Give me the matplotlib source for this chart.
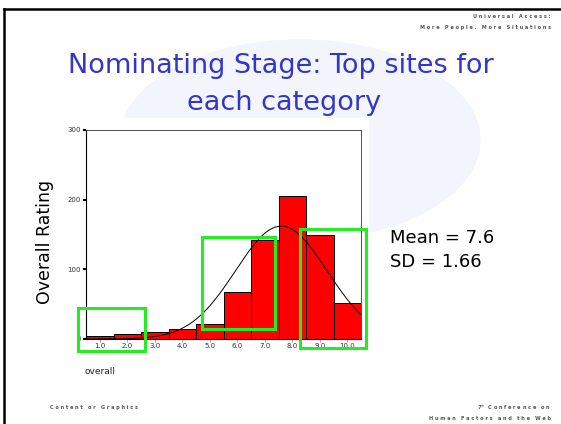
import numpy as np
import matplotlib.pyplot as plt
from matplotlib.patches import Rectangle, Ellipse

# histogram of ratings (counts)
bin_centers = [1, 2, 3, 4, 5, 6, 7, 8, 9, 10]
counts = [5, 7, 10, 14, 22, 68, 142, 205, 149, 52]
tick_labels = ["1.0", "2.0", "3.0", "4.0", "5.0", "6.0", "7.0", "8.0", "9.0", "10.0"]
mean_val = 7.6
sd_val = 1.66

# highlight boxes (x0, x1, y0, y1) in data units
highlights = [(0.21, 2.65, -17, 44), (4.72, 7.38, 14, 146), (8.28, 10.68, -13, 158)]

fig = plt.figure(figsize=(5.61, 4.24), dpi=100)
fig.patch.set_facecolor("white")

# slide background: faint watermark + black border
bg = fig.add_axes([0, 0, 1, 1])
bg.set_xlim(0, 561)
bg.set_ylim(424, 0)
bg.axis("off")
bg.add_patch(Ellipse((300, 140), 360, 200, color="#f2f5fc", zorder=0))
bg.add_patch(Rectangle((70, 118), 298, 275, color="white", zorder=1))
bg.plot([4, 561], [9, 9], color="black", lw=1.8, zorder=2)
bg.plot([4, 4], [9, 424], color="black", lw=1.8, zorder=2)

# header / footer texts
small = dict(fontsize=3.6, color="#555555", fontweight="bold")
bg.text(551, 16, "U n i v e r s a l   A c c e s s :", ha="right", va="center", **small)
bg.text(551, 28, "M o r e   P e o p l e .   M o r e   S i t u a t i o n s", ha="right", va="center", **small)
bg.text(50, 407, "C o n t e n t   o r   G r a p h i c s", ha="left", va="center", **small)
bg.text(551, 407, "7$^{th}$  C o n f e r e n c e   o n", ha="right", va="center", **small)
bg.text(551, 419, "H u m a n   F a c t o r s   a n d   t h e   W e b", ha="right", va="center", **small)

bg.text(281, 66, "Nominating Stage: Top sites for", ha="center", va="center",
        fontsize=19.5, color="#3535c8")
bg.text(284, 103, "each category", ha="center", va="center",
        fontsize=19.5, color="#3535c8")

bg.text(390, 238, f"Mean = {mean_val}", ha="left", va="center", fontsize=13, color="black")
bg.text(390, 262, f"SD = {sd_val}", ha="left", va="center", fontsize=13, color="black")
bg.text(45, 242, "Overall Rating", ha="center", va="center", rotation=90, fontsize=12.5)
bg.text(85, 371, "overall", ha="left", va="center", fontsize=6.5, color="#222222")

# histogram
ax = fig.add_axes([0.1533, 0.2005, 0.4902, 0.4929])
ax.bar(bin_centers, counts, width=1.0, color="red", edgecolor="black", linewidth=0.7, zorder=2)

x = np.linspace(0.5, 10.5, 300)
n = sum(counts)
y = n / (sd_val * np.sqrt(2 * np.pi)) * np.exp(-0.5 * ((x - mean_val) / sd_val) ** 2)
ax.plot(x, y, color="black", lw=0.7, zorder=3)

ax.set_xlim(0.5, 10.5)
ax.set_ylim(0, 300)
ax.set_xticks(bin_centers)
ax.set_xticklabels(tick_labels, fontsize=5, color="#333333")
ax.set_yticks([0, 100, 200, 300])
ax.set_yticklabels(["0", "100", "200", "300"], fontsize=5, color="#333333")
ax.tick_params(axis="y", length=2.5, width=1.5, pad=1)
ax.tick_params(axis="x", length=2, width=0.5, color="#888888", pad=1)
for s in ["top", "right"]:
    ax.spines[s].set_linewidth(0.6)
    ax.spines[s].set_color("#333333")
ax.spines["left"].set_linewidth(0.8)
ax.spines["bottom"].set_linewidth(0.8)

for x0, x1, y0, y1 in highlights:
    ax.add_patch(Rectangle((x0, y0), x1 - x0, y1 - y0, fill=False, edgecolor="#22ee22",
                           linewidth=2.2, clip_on=False, zorder=5))

fig.savefig("out.png", dpi=100)
